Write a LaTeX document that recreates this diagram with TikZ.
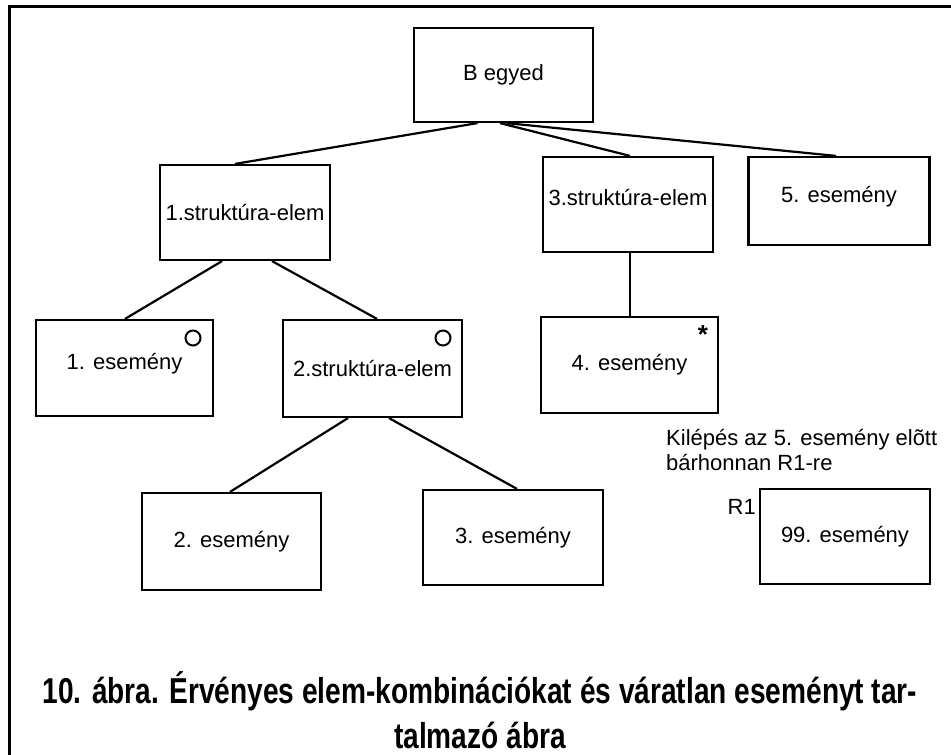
\documentclass[tikz,border=0pt]{standalone}
\usepackage{fontspec}
\setmainfont{Liberation Sans}
\newfontfamily\capfont[FakeStretch=0.78]{Liberation Sans}
\begin{document}
\begin{tikzpicture}[x=1pt,y=-1pt,
  box/.style={draw, line width=2.2pt, inner sep=0pt, align=center,
    font=\fontsize{22}{26}\selectfont},
  raised/.style={text depth=14pt},
  link/.style={line width=2.2pt},
  txt/.style={inner sep=0pt, font=\fontsize{22}{26}\selectfont},
  optcircle/.style={draw, circle, line width=2pt, minimum size=15pt, inner sep=0pt},
]
\useasboundingbox (0,0) rectangle (951,755);
% outer frame
\draw[line width=3pt] (9,770) -- (9,6) -- (970,6);

% boxes
\node[box, minimum width=179pt, minimum height=94pt] (B)   at (503.5,75)   {B egyed};
\node[box, minimum width=170pt, minimum height=95pt] (S1)  at (245,212.5)  {1.struktúra-elem};
\node[box, raised, minimum width=170pt, minimum height=95pt] (S3)  at (628,204.5) {3.struktúra-elem};
\node[box, raised, minimum width=181pt, minimum height=88pt] (E5)  at (839,201) {5. esemény};
\node[box, raised, minimum width=177pt, minimum height=96pt] (E1)  at (124.5,368) {1. esemény};
\node[box, minimum width=179pt, minimum height=97pt] (S2)  at (372.5,368.5){2.struktúra-elem};
\node[box, minimum width=177pt, minimum height=96pt] (E4)  at (629.5,365)  {4. esemény};
\node[box, minimum width=179pt, minimum height=97pt] (E2)  at (231.5,541.5){2. esemény};
\node[box, minimum width=180pt, minimum height=95pt] (E3)  at (513,537.5)  {3. esemény};
\node[box, minimum width=170pt, minimum height=95pt] (E99) at (845,536.5)  {99. esemény};

% optional / iteration marks
\node[optcircle] (o1) at (193,338) {};
\node[optcircle] (o2) at (443,338) {};
\node[inner sep=0pt, font=\bfseries\fontsize{26}{26}\selectfont] (it4) at (703,335) {*};

% connectors
\draw[link] ([xshift=-26pt]B.south) -- ([xshift=-10pt]S1.north);
\draw[link] ([xshift=-3.5pt]B.south) -- ([xshift=2pt]S3.north);
\draw[link] ([xshift=3pt]B.south) -- ([xshift=-3pt]E5.north);
\draw[link] ([xshift=-23pt]S1.south) -- ([xshift=0.5pt]E1.north);
\draw[link] ([xshift=27pt]S1.south) -- ([xshift=4.5pt]S2.north);
\draw[link] ([xshift=-24.5pt]S2.south) -- ([xshift=-1.5pt]E2.north);
\draw[link] ([xshift=16.5pt]S2.south) -- ([xshift=4pt]E3.north);
\draw[link] ([xshift=2pt]S3.south) -- ([xshift=0.5pt]E4.north);

% exit note
\node[txt, anchor=west, align=left, font=\fontsize{22}{25}\selectfont] (note) at (666,450)
  {Kilépés az 5. esemény elõtt\\bárhonnan R1-re};
\node[txt, anchor=east] (r1) at (756,507) {R1};

% caption (base anchor sits on the last line)
\node[inner sep=0pt, anchor=base, align=center, font=\capfont\bfseries\fontsize{36}{45}\selectfont] (cap) at (480,748)
  {10. ábra. Érvényes elem-kombinációkat és váratlan eseményt tar-\\talmazó ábra};
\end{tikzpicture}
\end{document}
